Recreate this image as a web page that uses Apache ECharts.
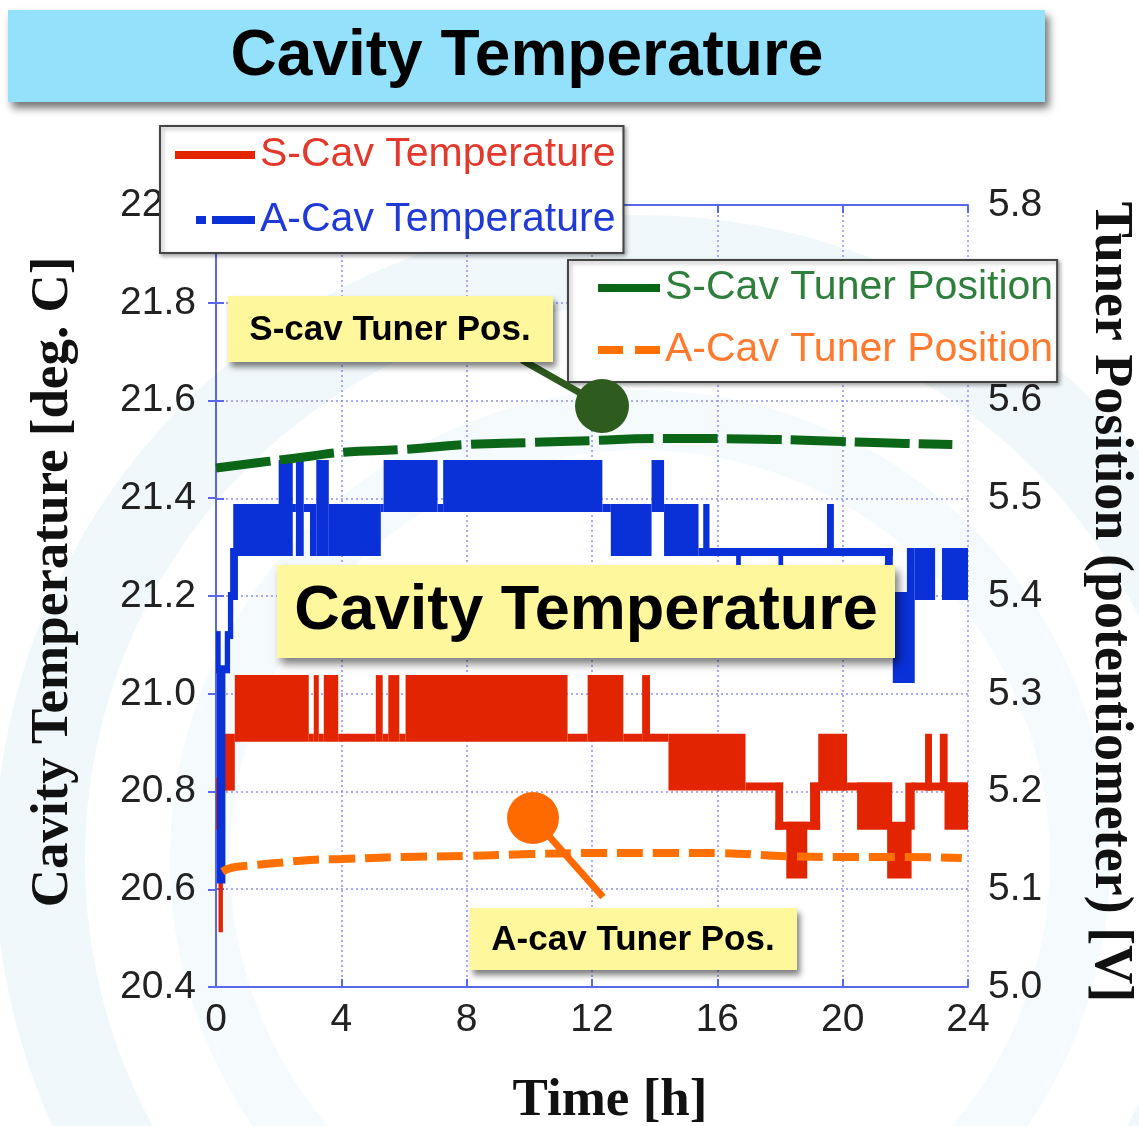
<!DOCTYPE html>
<html><head><meta charset="utf-8">
<script src="https://cdn.jsdelivr.net/npm/echarts@6/dist/echarts.min.js"></script>
<style>html,body{margin:0;padding:0;background:#fff;} #main{width:1139px;height:1126px;}</style>
</head><body><div id="main"></div>
<script>
// ---------- axis ranges / ticks ----------
const timeRange = [0, 24];
const timeTickStep = 4;
const tempRange = [20.4, 22.0];
const tempTickStep = 0.2;
const tunerRange = [5.0, 5.8];
const tunerTickStep = 0.1;

// ---------- S-Cav temperature: [tStart, tEnd, lowLevel, highLevel] (reading dithers between levels) ----------
const sCavTempSegments = [
  [0.0, 0.12, 20.73, 20.82],
  [0.08, 0.22, 20.52, 20.82],
  [0.2, 0.6, 20.81, 20.91],
  [0.6, 2.96, 20.91, 21.03],
  [2.96, 3.12, 20.91, 20.91],
  [3.12, 3.28, 20.91, 21.03],
  [3.28, 3.44, 20.91, 20.91],
  [3.44, 3.9, 20.91, 21.03],
  [3.9, 5.1, 20.91, 20.91],
  [5.1, 5.32, 20.91, 21.03],
  [5.32, 5.5, 20.91, 20.91],
  [5.5, 5.85, 20.91, 21.03],
  [5.85, 6.05, 20.91, 20.91],
  [6.05, 11.22, 20.91, 21.03],
  [11.22, 11.86, 20.91, 20.91],
  [11.86, 13.0, 20.91, 21.03],
  [13.0, 13.6, 20.91, 20.91],
  [13.6, 13.85, 20.91, 21.03],
  [13.85, 14.44, 20.91, 20.91],
  [14.44, 16.9, 20.81, 20.91],
  [16.9, 18.1, 20.81, 20.81],
  [17.85, 18.1, 20.73, 20.81],
  [17.85, 19.28, 20.73, 20.73],
  [18.2, 18.87, 20.63, 20.73],
  [18.96, 19.28, 20.73, 20.81],
  [18.96, 20.14, 20.81, 20.81],
  [19.22, 20.14, 20.81, 20.91],
  [20.14, 21.58, 20.81, 20.81],
  [20.46, 21.58, 20.73, 20.81],
  [21.42, 22.2, 20.63, 20.73],
  [22.0, 22.3, 20.73, 20.81],
  [22.2, 24.0, 20.81, 20.81],
  [22.63, 22.85, 20.81, 20.91],
  [23.1, 23.35, 20.81, 20.91],
  [23.25, 24.0, 20.73, 20.81]
];

// ---------- A-Cav temperature ----------
const aCavTempSegments = [
  [0.0, 0.15, 21.05, 21.12],
  [0.03, 0.3, 20.62, 21.05],
  [0.28, 0.45, 21.05, 21.12],
  [0.38, 0.55, 21.12, 21.2],
  [0.45, 0.7, 21.2, 21.29],
  [0.55, 2.45, 21.29, 21.38],
  [2.0, 2.45, 21.38, 21.47],
  [2.45, 2.55, 21.38, 21.38],
  [2.55, 2.8, 21.29, 21.47],
  [2.8, 3.0, 21.38, 21.38],
  [3.0, 3.2, 21.29, 21.38],
  [3.2, 3.6, 21.29, 21.47],
  [3.6, 5.26, 21.29, 21.38],
  [5.26, 5.35, 21.38, 21.38],
  [5.35, 7.07, 21.38, 21.47],
  [7.07, 7.25, 21.38, 21.38],
  [7.25, 12.33, 21.38, 21.47],
  [12.33, 12.6, 21.38, 21.38],
  [12.6, 13.9, 21.29, 21.38],
  [13.9, 14.3, 21.38, 21.47],
  [14.3, 15.4, 21.29, 21.38],
  [15.55, 15.75, 21.29, 21.38],
  [15.4, 19.5, 21.29, 21.29],
  [16.6, 16.75, 21.2, 21.29],
  [17.95, 18.1, 21.2, 21.29],
  [19.5, 19.72, 21.29, 21.38],
  [19.5, 21.6, 21.29, 21.29],
  [21.35, 21.6, 21.2, 21.29],
  [21.6, 22.2, 21.03, 21.2],
  [22.05, 22.3, 21.03, 21.29],
  [22.3, 22.95, 21.2, 21.29],
  [23.17, 24.0, 21.2, 21.29]
];

// ---------- Tuner positions (right axis, V) ----------
const sCavTunerTime = [0, 1, 2, 3, 4, 6, 8, 10, 12, 14, 16, 18, 20, 22, 23.5];
const sCavTunerPos  = [5.531, 5.535, 5.539, 5.543, 5.547, 5.550, 5.555, 5.557, 5.559, 5.561, 5.561, 5.560, 5.558, 5.556, 5.555];
const aCavTunerTime = [0.2, 0.5, 1, 2, 3, 4, 6, 8, 10, 12, 14, 16, 18, 20, 22, 23.8];
const aCavTunerPos  = [5.118, 5.122, 5.124, 5.127, 5.130, 5.131, 5.133, 5.134, 5.136, 5.137, 5.137, 5.137, 5.134, 5.133, 5.133, 5.132];

const C_RED = '#e22400', C_BLUE = '#0a30d8', C_GREEN = '#0b6618', C_ORANGE = '#ff7000';
const AXIS_BLUE = '#5868e8';
const LINE_PX = 8;

function bandRenderer(color) {
  return function (params, api) {
    const a = api.coord([api.value(0), api.value(3)]);
    const b = api.coord([api.value(1), api.value(2)]);
    const h = LINE_PX / 2;
    return {
      type: 'rect',
      shape: { x: a[0], y: a[1] - h, width: b[0] - a[0], height: b[1] - a[1] + 2 * h },
      style: { fill: color }
    };
  };
}
const zip = (xs, ys) => xs.map((x, i) => [x, ys[i]]);

const chart = echarts.init(document.getElementById('main'), null, { renderer: 'canvas' });
const fSans = 'Liberation Sans';
const fSerif = 'Liberation Serif';
const dashIconA = 'path://M0,0h0.01v0.01h-0.01z M21,0h10v8h-10z M37,0h43v8h-43z';
const dashIconB = 'path://M0,0h25v8h-25z M37,0h25v8h-25z';

const option = {
  backgroundColor: '#ffffff',
  animation: false,
  grid: { left: 216, right: 171, top: 205, bottom: 139, containLabel: false, outerBoundsMode: 'none' },
  xAxis: [
    {
      type: 'value', min: timeRange[0], max: timeRange[1], interval: timeTickStep, position: 'bottom',
      axisLine: { show: true, lineStyle: { color: AXIS_BLUE, width: 2 } },
      axisTick: { show: true, inside: true, length: 8, lineStyle: { color: AXIS_BLUE, width: 2 } },
      axisLabel: { fontFamily: fSans, fontSize: 39, color: '#222', margin: 14 },
      splitLine: { show: true, lineStyle: { color: '#8f8ff2', type: [2, 3], width: 1.5 } },
      name: 'Time [h]', nameLocation: 'middle', nameGap: 88,
      nameTextStyle: { fontFamily: fSerif, fontWeight: 'bold', fontSize: 53, color: '#111', padding: [0, 0, 0, 36] }
    },
    {
      type: 'value', min: timeRange[0], max: timeRange[1], interval: timeTickStep, position: 'top',
      axisLine: { show: true, lineStyle: { color: AXIS_BLUE, width: 2 } },
      axisTick: { show: true, inside: true, length: 8, lineStyle: { color: AXIS_BLUE, width: 2 } },
      axisLabel: { show: false }, splitLine: { show: false }
    }
  ],
  yAxis: [
    {
      type: 'value', min: tempRange[0], max: tempRange[1], interval: tempTickStep, position: 'left',
      axisLine: { show: true, lineStyle: { color: AXIS_BLUE, width: 2 } },
      axisTick: { show: true, inside: true, length: 8, lineStyle: { color: AXIS_BLUE, width: 2 } },
      axisLabel: { fontFamily: fSans, fontSize: 39, color: '#222', margin: 20, formatter: v => v.toFixed(1) },
      splitLine: { show: true, lineStyle: { color: '#8f8ff2', type: [2, 3], width: 1.5 } },
      name: 'Cavity Temperature [deg. C]', nameLocation: 'middle', nameGap: 136, nameRotate: 90,
      nameTextStyle: { fontFamily: fSerif, fontWeight: 'bold', fontSize: 53, color: '#111', padding: [0, 0, 0, 28] }
    },
    {
      type: 'value', min: tunerRange[0], max: tunerRange[1], interval: tunerTickStep, position: 'right',
      axisLine: { show: true, lineStyle: { color: AXIS_BLUE, width: 2 } },
      axisTick: { show: true, inside: true, length: 8, lineStyle: { color: AXIS_BLUE, width: 2 } },
      axisLabel: { fontFamily: fSans, fontSize: 39, color: '#222', margin: 20, formatter: v => v.toFixed(1) },
      splitLine: { show: false },
      name: 'Tuner Position (potentiometer) [V]', nameLocation: 'middle', nameGap: 115, nameRotate: -90,
      nameTextStyle: { fontFamily: fSerif, fontWeight: 'bold', fontSize: 54, color: '#111', padding: [0, 0, 0, 12] }
    }
  ],
  legend: [
    {
      left: 160, top: 126, orient: 'vertical', selectedMode: false,
      padding: [7, 8, 11, 15], itemGap: 21, itemWidth: 80, itemHeight: 8,
      backgroundColor: '#ffffff', borderColor: '#444', borderWidth: 2,
      shadowBlur: 4, shadowColor: 'rgba(0,0,0,0.35)', shadowOffsetX: 2, shadowOffsetY: 2,
      itemStyle: { borderWidth: 0 },
      textStyle: { fontFamily: fSans, fontSize: 41, lineHeight: 44 },
      data: [
        { name: 'S-Cav Temperature', icon: 'rect', itemStyle: { color: C_RED }, textStyle: { color: '#e3382c' } },
        { name: 'A-Cav Temperature', icon: dashIconA, itemStyle: { color: C_BLUE }, textStyle: { color: '#1f3ad6' } }
      ]
    },
    {
      left: 568, top: 260, orient: 'vertical', selectedMode: false,
      padding: [6, 4, 10, 30], itemGap: 18, itemWidth: 62, itemHeight: 8,
      backgroundColor: '#ffffff', borderColor: '#444', borderWidth: 2,
      shadowBlur: 4, shadowColor: 'rgba(0,0,0,0.35)', shadowOffsetX: 2, shadowOffsetY: 2,
      itemStyle: { borderWidth: 0 },
      textStyle: { fontFamily: fSans, fontSize: 41, lineHeight: 44 },
      data: [
        { name: 'S-Cav Tuner Position', icon: 'rect', itemStyle: { color: C_GREEN }, textStyle: { color: '#2f7f3c' } },
        { name: 'A-Cav Tuner Position', icon: dashIconB, itemStyle: { color: C_ORANGE }, textStyle: { color: '#ff7a2e' } }
      ]
    }
  ],
  series: [
    {
      name: 'S-Cav Temperature', type: 'custom', xAxisIndex: 0, yAxisIndex: 0, clip: true, z: 2,
      itemStyle: { color: C_RED }, renderItem: bandRenderer(C_RED),
      encode: { x: [0, 1], y: [2, 3] }, data: sCavTempSegments
    },
    {
      name: 'A-Cav Temperature', type: 'custom', xAxisIndex: 0, yAxisIndex: 0, clip: true, z: 2,
      itemStyle: { color: C_BLUE }, renderItem: bandRenderer(C_BLUE),
      encode: { x: [0, 1], y: [2, 3] }, data: aCavTempSegments
    },
    {
      name: 'S-Cav Tuner Position', type: 'line', xAxisIndex: 0, yAxisIndex: 1, z: 3,
      showSymbol: false, smooth: true, itemStyle: { color: C_GREEN },
      lineStyle: { color: C_GREEN, width: 9, type: [55, 9] },
      data: zip(sCavTunerTime, sCavTunerPos)
    },
    {
      name: 'A-Cav Tuner Position', type: 'line', xAxisIndex: 0, yAxisIndex: 1, z: 3,
      showSymbol: false, smooth: true, itemStyle: { color: C_ORANGE },
      lineStyle: { color: C_ORANGE, width: 8, type: [26, 10] },
      data: zip(aCavTunerTime, aCavTunerPos)
    }
  ],
  graphic: [
    // faint background swooshes
    { type: 'circle', z: -5, silent: true, shape: { cx: 640, cy: 860, r: 600 },
      style: { fill: 'none', stroke: 'rgba(190,225,238,0.22)', lineWidth: 90 } },
    { type: 'circle', z: -5, silent: true, shape: { cx: 640, cy: 860, r: 440 },
      style: { fill: 'none', stroke: 'rgba(200,230,240,0.18)', lineWidth: 60 } },
    // title bar
    { type: 'rect', z: 100, shape: { x: 8, y: 10, width: 1037, height: 92 },
      style: { fill: '#94e1fb', shadowBlur: 8, shadowOffsetX: 4, shadowOffsetY: 6, shadowColor: 'rgba(0,0,0,0.55)' } },
    { type: 'text', z: 101, x: 527, y: 57,
      style: { text: 'Cavity Temperature', font: 'bold 64px "Liberation Sans"', fill: '#000', align: 'center', verticalAlign: 'middle' } },
    // pointers
    { type: 'line', z: 98, shape: { x1: 522, y1: 360, x2: 598, y2: 403 }, style: { stroke: '#2e5a1f', lineWidth: 7 } },
    { type: 'circle', z: 98, shape: { cx: 602, cy: 406, r: 27 }, style: { fill: '#2e5c1e' } },
    { type: 'line', z: 98, shape: { x1: 540, y1: 826, x2: 603, y2: 897 }, style: { stroke: '#ff6a00', lineWidth: 7 } },
    { type: 'circle', z: 98, shape: { cx: 533, cy: 818, r: 26 }, style: { fill: '#ff6a00' } },
    // yellow callouts
    { type: 'rect', z: 100, shape: { x: 277, y: 565, width: 618, height: 93 },
      style: { fill: '#fff79b', shadowBlur: 8, shadowOffsetX: 4, shadowOffsetY: 6, shadowColor: 'rgba(0,0,0,0.5)' } },
    { type: 'text', z: 101, x: 586, y: 612,
      style: { text: 'Cavity Temperature', font: 'bold 63px "Liberation Sans"', fill: '#000', align: 'center', verticalAlign: 'middle' } },
    { type: 'rect', z: 100, shape: { x: 228, y: 296, width: 325, height: 66 },
      style: { fill: '#fff79b', shadowBlur: 6, shadowOffsetX: 3, shadowOffsetY: 5, shadowColor: 'rgba(0,0,0,0.5)' } },
    { type: 'text', z: 101, x: 390, y: 330,
      style: { text: 'S-cav Tuner Pos.', font: 'bold 35px "Liberation Sans"', fill: '#000', align: 'center', verticalAlign: 'middle' } },
    { type: 'rect', z: 100, shape: { x: 470, y: 908, width: 327, height: 62 },
      style: { fill: '#fff79b', shadowBlur: 6, shadowOffsetX: 3, shadowOffsetY: 5, shadowColor: 'rgba(0,0,0,0.5)' } },
    { type: 'text', z: 101, x: 633, y: 940,
      style: { text: 'A-cav Tuner Pos.', font: 'bold 35px "Liberation Sans"', fill: '#000', align: 'center', verticalAlign: 'middle' } }
  ]
};
chart.setOption(option);
</script>
</body></html>
